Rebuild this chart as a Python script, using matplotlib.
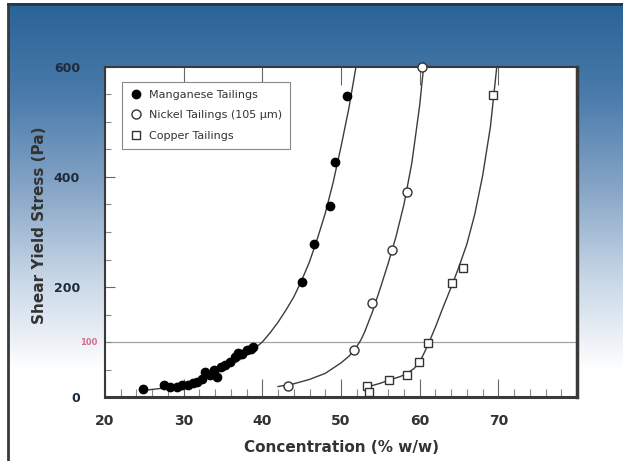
import numpy as np
import matplotlib.pyplot as plt
from matplotlib.colors import LinearSegmentedColormap

# data
mn_x = [24.8, 27.5, 28.3, 29.1, 29.8, 30.5, 31.2, 31.7, 32.3, 32.7, 33.3, 33.8, 34.2,
        34.7, 35.3, 35.9, 36.5, 36.9, 37.4, 38.0, 38.5, 38.8, 45.0, 46.6, 48.6, 49.2, 50.8]
mn_y = [15, 22, 19, 18, 21, 22, 25, 28, 33, 45, 40, 49, 37, 55, 58, 64, 72, 80, 78,
        85, 88, 91, 209, 278, 348, 427, 548]
ni_x = [43.3, 51.7, 53.9, 56.5, 58.4, 60.3]
ni_y = [20, 85, 171, 267, 373, 600]
cu_x = [53.3, 53.5, 56.1, 58.4, 59.9, 61.0, 64.1, 65.5, 69.3]
cu_y = [20, 10, 31, 40, 64, 98, 207, 234, 549]

# fitted curves, knots
mn_cx = [25.5, 28, 30, 32, 34, 36, 38, 39, 40, 41, 42, 43, 44, 45, 46, 47, 48,
         49, 50, 51, 51.9]
mn_cy = [13, 17, 22, 30, 42, 57, 76, 88, 100, 117, 136, 158, 182, 212, 246, 288,
         334, 390, 455, 525, 600]
ni_cx = [42, 44, 46, 48, 50, 51, 51.7, 52.5, 53, 54, 55, 56, 57, 58, 59, 60, 60.5]
ni_cy = [19, 24, 32, 43, 62, 74, 85, 103, 118, 155, 198, 243, 292, 350, 425, 530, 600]
cu_cx = [53.3, 55, 56.2, 57.5, 58.4, 59.3, 60, 60.5, 61, 62, 63, 64.1, 65, 66, 67,
         68, 69, 69.8]
cu_cy = [18, 25, 31, 37, 43, 52, 64, 78, 93, 127, 164, 203, 237, 278, 332, 402,
         492, 600]

W, H = 623, 461
fig = plt.figure(figsize=(W / 100, H / 100), dpi=100)
fig.patch.set_facecolor('white')

# gradient background with a dark frame on top and left
bg = fig.add_axes([0, 0, 1, 1], zorder=-1)
bg.set_xlim(0, W)
bg.set_ylim(H, 0)
bg.axis('off')
cmap = LinearSegmentedColormap.from_list('bg', [
    (0.0, '#2a6396'), (0.2, '#497bab'), (0.4, '#85a4c6'),
    (0.6, '#c7d6e6'), (0.74, '#eef2f7'), (0.8, '#ffffff'), (1.0, '#ffffff')])
grad = np.linspace(0, 1, 256).reshape(-1, 1)
bg.imshow(grad, cmap=cmap, aspect='auto', extent=[8, W, H, 4])
bg.plot([8, 8], [4, H], color='#3a3a3a', lw=2)
bg.plot([8, W], [4, 4], color='#22384f', lw=2)

ax = fig.add_axes([105 / W, 1 - 397 / H, 472 / W, 330 / H])
ax.set_facecolor('white')

ax.axhline(100, color='#a8a0a6', lw=0.9, zorder=1)

ax.plot(mn_cx, mn_cy, color='#3c3c3c', lw=1, zorder=2)
ax.plot(ni_cx, ni_cy, color='#3c3c3c', lw=1, zorder=2)
ax.plot(cu_cx, cu_cy, color='#3c3c3c', lw=1, zorder=2)

ax.plot(mn_x, mn_y, 'o', color='black', ms=6, ls='none', zorder=3,
        label='Manganese Tailings', clip_on=False)
ax.plot(ni_x, ni_y, 'o', mfc='white', mec='#333333', mew=1, ms=6.5, ls='none',
        zorder=3, label='Nickel Tailings (105 \u03bcm)', clip_on=False)
ax.plot(cu_x, cu_y, 's', mfc='white', mec='#333333', mew=1, ms=6, ls='none',
        zorder=3, label='Copper Tailings', clip_on=False)

ax.set_xlim(20, 80)
ax.set_ylim(0, 600)
ax.set_xticks([20, 30, 40, 50, 60, 70])
ax.set_xticks(np.arange(20, 80, 2), minor=True)
ax.set_yticks([0, 200, 400, 600])
ax.set_yticks(np.arange(0, 600, 50), minor=True)

ax.tick_params(axis='x', which='major', direction='in', length=13, width=0.8,
               color='#666666', top=True, pad=12, labelsize=10, labelcolor='#333333')
ax.tick_params(axis='x', which='minor', direction='in', length=6, width=0.8,
               color='#888888')
ax.tick_params(axis='y', which='major', direction='in', length=7, width=0.8,
               color='#666666', pad=18, labelsize=9, labelcolor='#1e2a3a')
ax.tick_params(axis='y', which='minor', direction='in', length=4, width=0.8,
               color='#888888')
for lab in ax.get_xticklabels() + ax.get_yticklabels():
    lab.set_fontweight('bold')

ax.text(-0.016, 100, '100', transform=ax.get_yaxis_transform(), ha='right',
        va='center', fontsize=6, color='#d0708c', fontweight='bold')

for s in ax.spines.values():
    s.set_color('#3a3a3a')
    s.set_linewidth(1.5)
ax.spines['right'].set_linewidth(2.5)
ax.spines['bottom'].set_linewidth(2.2)

ax.set_xlabel('Concentration (% w/w)', fontsize=11, fontweight='bold', color='#333333')
ax.set_ylabel('Shear Yield Stress (Pa)', fontsize=11, fontweight='bold', color='#333333')
ax.xaxis.set_label_coords(0.5, -0.13)
ax.yaxis.set_label_coords(-0.123, 0.52)

leg = ax.legend(loc='upper left', bbox_to_anchor=(0.036, 0.955), borderaxespad=0,
                fontsize=8, frameon=True, fancybox=False, framealpha=1,
                edgecolor='#888888', handlelength=1.2, handletextpad=0.55,
                borderpad=0.7, labelspacing=0.95)
leg.get_frame().set_linewidth(0.8)
for t in leg.get_texts():
    t.set_color('#333333')

fig.savefig('out.png', dpi=100)
